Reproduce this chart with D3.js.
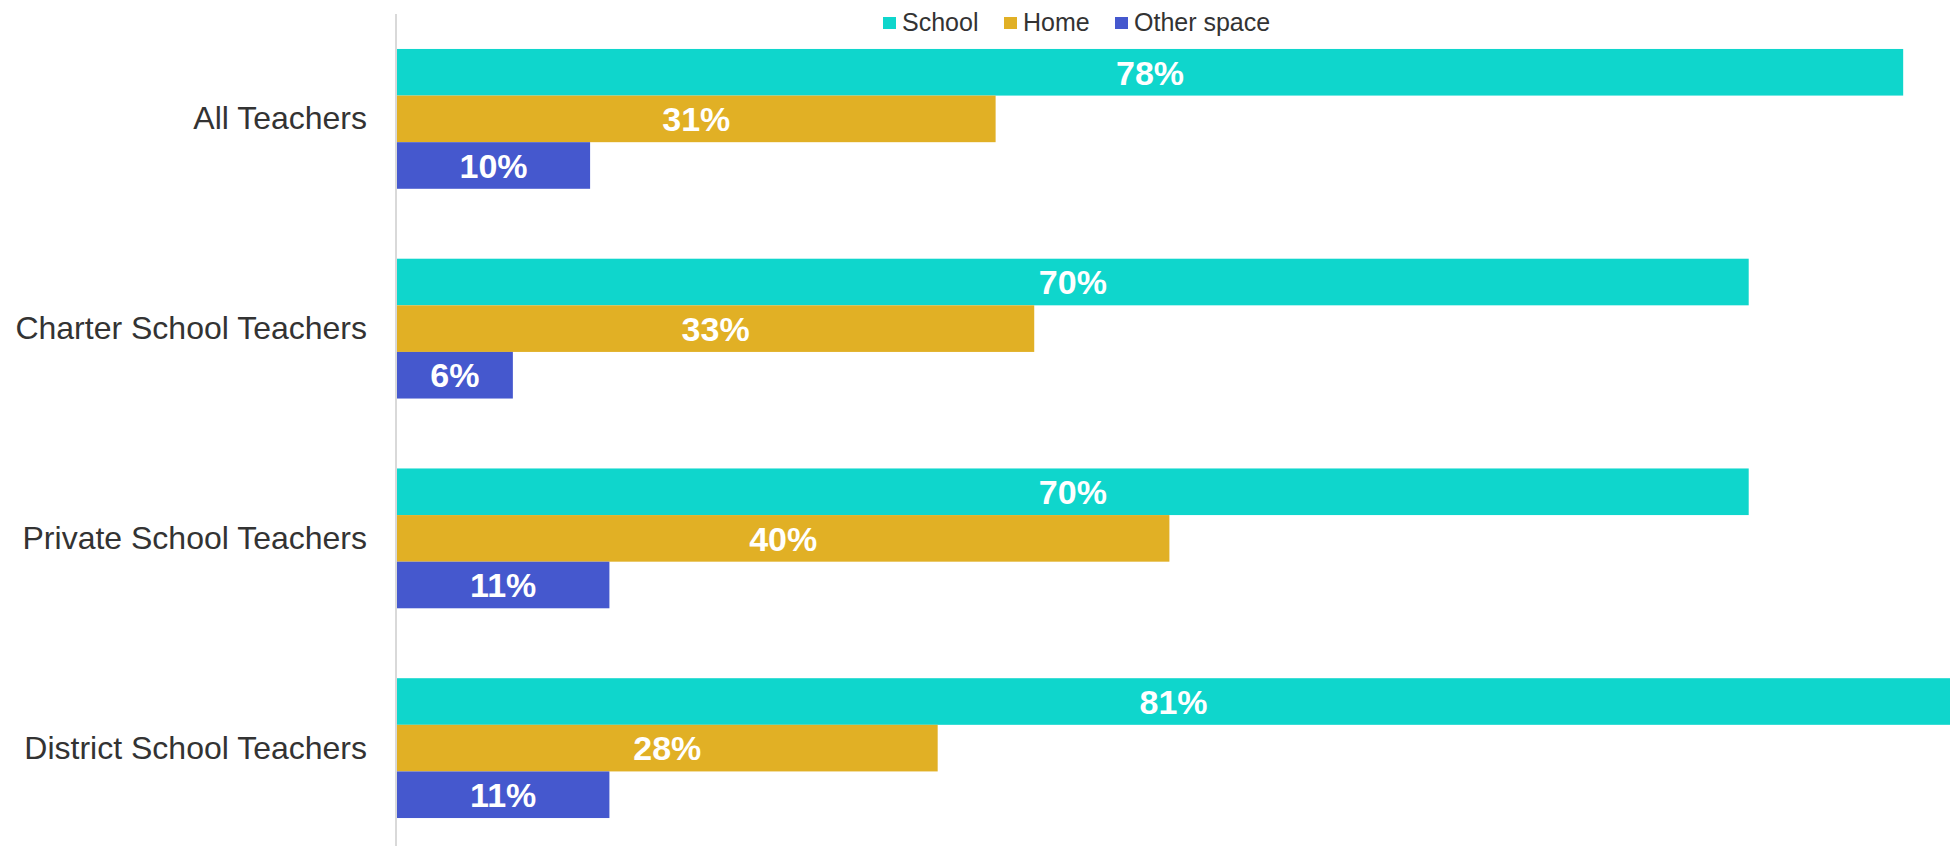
<!DOCTYPE html>
<html>
<head>
<meta charset="utf-8">
<script src="https://cdn.jsdelivr.net/npm/d3@7"></script>
<style>
  html, body { margin: 0; padding: 0; background: #ffffff; overflow: hidden; }
  svg { display: block; font-family: "Liberation Sans", Arial, sans-serif; }
</style>
</head>
<body>
<svg id="chart" width="1950" height="846"></svg>
<script>
const categories = ["All Teachers", "Charter School Teachers", "Private School Teachers", "District School Teachers"];
const seriesNames = ["School", "Home", "Other space"];
const schoolValues = [78, 70, 70, 81];
const homeValues = [31, 33, 40, 28];
const otherValues = [10, 6, 11, 11];
const seriesColors = ["#0fd6cc", "#e1b025", "#4558ce"];

const seriesValues = [schoolValues, homeValues, otherValues];

const svg = d3.select("#chart");
const W = 1950, H = 846;

const x = d3.scaleLinear().domain([0, 100]).range([397, 397 + 1931]);
const y = d3.scaleBand().domain(categories).range([14, 853]).paddingInner(0).paddingOuter(0);
const ySub = d3.scaleBand().domain(seriesNames)
  .range([y.bandwidth() * 0.1667, y.bandwidth() * 0.8333]).padding(0);

const data = [];
categories.forEach((c, i) => {
  seriesNames.forEach((s, j) => {
    data.push({ cat: c, series: s, value: seriesValues[j][i], color: seriesColors[j] });
  });
});

const g = svg.append("g");

g.selectAll("rect.bar").data(data).enter().append("rect")
  .attr("class", "bar")
  .attr("x", x(0))
  .attr("y", d => y(d.cat) + ySub(d.series))
  .attr("width", d => x(d.value) - x(0))
  .attr("height", ySub.bandwidth())
  .attr("fill", d => d.color);

g.selectAll("text.val").data(data).enter().append("text")
  .attr("class", "val")
  .attr("x", d => (x(0) + Math.min(x(d.value), W)) / 2)
  .attr("y", d => y(d.cat) + ySub(d.series) + ySub.bandwidth() / 2)
  .attr("dy", "0.36em")
  .attr("text-anchor", "middle")
  .attr("fill", "#ffffff")
  .attr("font-weight", "bold")
  .attr("font-size", 34)
  .text(d => d.value + "%");

// axis line
const yAxis = d3.axisLeft(y).tickSize(0).tickPadding(29);
const ax = svg.append("g").attr("transform", `translate(${x(0) - 1},0)`).call(yAxis);
ax.attr("font-family", null);
ax.select(".domain").attr("d", `M0,14V${H}`).attr("stroke", "#d9d9d9").attr("stroke-width", 2);
ax.selectAll(".tick text")
  .attr("font-size", 32)
  .attr("dy", "0.33em")
  .attr("fill", "#333333");

// legend
const legendX = [883, 1004, 1115];
const leg = svg.append("g");
seriesNames.forEach((s, j) => {
  leg.append("rect").attr("x", legendX[j]).attr("y", 17).attr("width", 13).attr("height", 12).attr("fill", seriesColors[j]);
  leg.append("text").attr("x", legendX[j] + 19).attr("y", 22).attr("dy", "0.36em")
    .attr("font-size", 25).attr("fill", "#333333").text(s);
});
</script>
</body>
</html>
